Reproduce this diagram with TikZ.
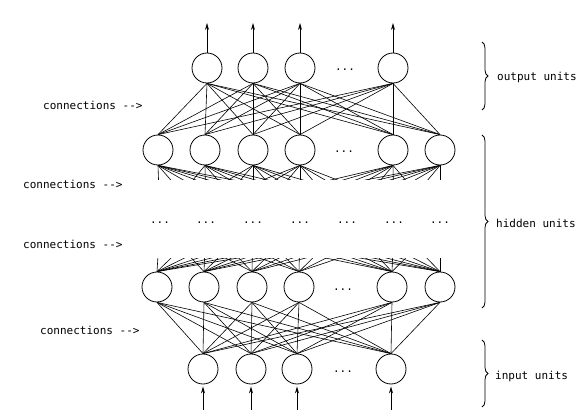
\documentclass[tikz,border=0pt]{standalone}
\usepackage{fontspec}
\newfontfamily\plotfont{DejaVu Sans Mono}
\usetikzlibrary{arrows.meta, decorations.pathreplacing}

\begin{document}
\begin{tikzpicture}[
    x=1pt, y=-1pt,
    unit/.style={circle, draw, line width=0.8pt, minimum size=30pt, inner sep=0pt},
    dots/.style={anchor=base, inner sep=1pt, font=\plotfont\fontsize{11}{13}\selectfont},
    lbl/.style={anchor=west, inner sep=0pt, font=\plotfont\fontsize{11}{13}\selectfont},
    conn/.style={line width=0.6pt},
    signal/.style={-{Stealth[length=7pt, width=4pt]}, line width=0.8pt},
    bracket/.style={decorate, decoration={brace, amplitude=6pt}, line width=0.8pt}
]
    \useasboundingbox (0,0) rectangle (582,420);

    % Output layer
    \foreach \x [count=\n] in {207,253,300,393}
        \node[unit] (o\n) at (\x,68) {};
    \node[dots] (odots) at (345,71) {...};

    % Hidden layer (upper)
    \foreach \x [count=\n] in {158,205,253,300,393,440}
        \node[unit] (ha\n) at (\x,150) {};
    \node[dots] (hadots) at (344,153) {...};

    % Middle row of dots
    \foreach \x [count=\n] in {160,206,253,300,347,394,440}
        \node[dots] (d\n) at (\x,223) {...};

    % Hidden layer (lower)
    \foreach \x [count=\n] in {157,204,252,299,392,440}
        \node[unit] (hb\n) at (\x,287) {};
    \node[dots] (hbdots) at (343,290) {...};

    % Input layer
    \foreach \x [count=\n] in {203,251,297,391}
        \node[unit] (i\n) at (\x,369) {};
    \node[dots] (idots) at (343,372) {...};

    % Connections - full between layers
    \foreach \a in {1,...,4}
        \foreach \b in {1,...,6}
            \draw[conn] (o\a.south) -- (ha\b.north);
    \foreach \a in {1,...,6}
        \foreach \b in {1,...,4}
            \draw[conn] (hb\a.south) -- (i\b.north);

    % Connections - cut off towards the middle
    \begin{scope}
        \clip (140,165) rectangle (460,180);
        \foreach \a in {1,...,6}
            \foreach \b in {1,...,7}
                \draw[conn] (ha\a.south) -- (d\b.north);
    \end{scope}
    \begin{scope}
        \clip (140,258) rectangle (460,272);
        \foreach \a in {1,...,6}
            \foreach \b in {1,...,7}
                \draw[conn] (hb\a.north) -- (d\b.south);
    \end{scope}

    % Arrows out and in
    \foreach \x [count=\n] in {207,253,300,393} {
        \coordinate (out\n) at (\x,23);
        \draw[signal] (o\n) -- (out\n);
    }
    \foreach \x [count=\n] in {203,251,297,391} {
        \coordinate (in\n) at (\x,410);
        \draw[signal, shorten >=2pt] (in\n) -- (i\n);
    }

    % Braces
    \coordinate (otop) at (482,42);
    \coordinate (obot) at (482,110);
    \coordinate (htop) at (482,135);
    \coordinate (hbot) at (482,308);
    \coordinate (itop) at (482,340);
    \coordinate (ibot) at (482,407);
    \draw[bracket] (otop) -- (obot);
    \draw[bracket] (htop) -- (hbot);
    \draw[bracket] (itop) -- (ibot);

    % Labels
    \node[lbl] (olbl) at (497,77) {output units};
    \node[lbl] (hlbl) at (496,223) {hidden units};
    \node[lbl] (ilbl) at (495,376) {input units};
    \node[lbl] (conn1) at (43,105) {connections -\kern0pt->};
    \node[lbl] (conn2) at (23,184) {connections -\kern0pt->};
    \node[lbl] (conn3) at (23,244) {connections -\kern0pt->};
    \node[lbl] (conn4) at (40,330) {connections -\kern0pt->};

\end{tikzpicture}
\end{document}
